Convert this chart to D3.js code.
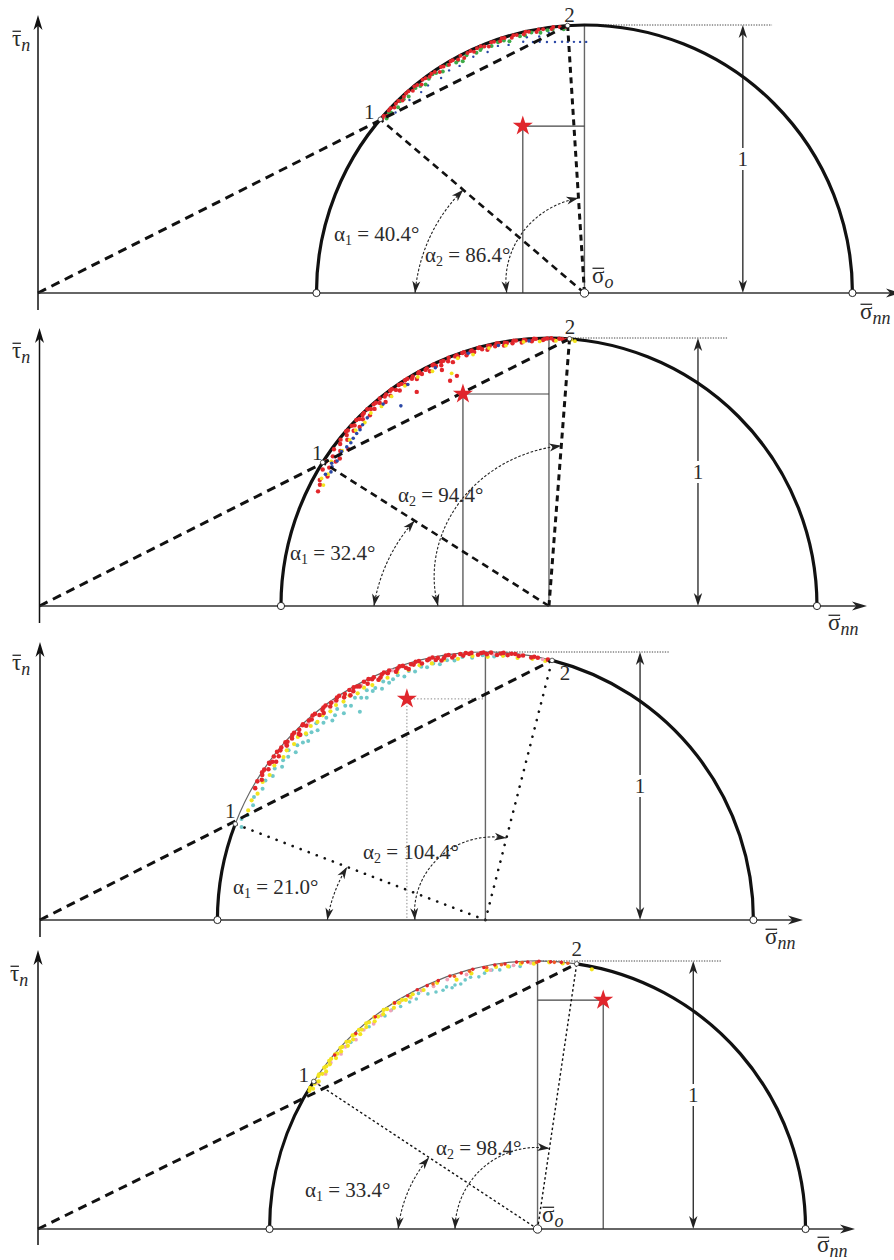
<!DOCTYPE html>
<html>
<head>
<meta charset="utf-8">
<script src="https://cdnjs.cloudflare.com/ajax/libs/d3/7.8.5/d3.min.js"></script>
<style>
  body { margin: 0; background: #fff; }
  svg { display: block; }
  text { font-family: "Liberation Serif", "Times New Roman", serif; fill: #2b2b2b; }
</style>
</head>
<body>
<svg id="chart" width="894" height="1260"></svg>
<script>
// ---- Mohr-circle states, stresses normalised by the circle radius ----
const centerStress = [2.039, 1.901, 1.662, 1.864];   // σ̄o
const alpha1 = [40.4, 32.4, 21.0, 33.4];             // degrees
const alpha2 = [86.4, 94.4, 104.4, 98.4];            // degrees
const starSigma = [1.809, 1.580, 1.369, 2.109];
const starTau = [0.623, 0.791, 0.825, 0.854];
const radiusText = "1";

// ---- measured states: [angle on circle (deg), radius fraction] ----
const p1Red = [[40.8,.996],[41.4,.999],[41.9,.99],[43.0,.998],[43.6,.999],[44.3,.991],[45.1,.997],[45.9,.998],[46.6,.988],[47.4,.995],[48.2,.999],[48.9,.999],[49.7,.99],[50.5,.998],[51.2,.996],[52.0,.987],[52.8,.999],[53.5,.997],[54.4,.992],[55.1,.998],[55.9,.996],[56.8,.986],[57.6,.999],[58.1,.995],[59.3,.99],[60.0,.998],[60.5,.998],[61.6,.991],[62.4,.999],[62.9,.985],[64.0,.996],[64.8,.998],[65.4,.99],[66.3,.997],[67.2,.999],[67.9,.993],[68.8,.987],[69.6,.998],[70.2,.996],[71.5,.991],[72.0,.999],[72.6,.997],[74.1,.99],[74.6,.998],[75.3,.995],[76.8,.992],[77.3,.999],[78.0,.997],[79.6,.99],[80.1,.998],[81.1,.996],[82.9,.993],[83.3,.999],[84.7,.997],[86.0,.995]];
const p1Green = [[41.4,.984],[42.6,.992],[43.0,.987],[44.9,.982],[46.1,.993],[47.0,.989],[48.2,.984],[50.5,.991],[51.6,.986],[52.7,.978],[54.0,.988],[55.2,.994],[56.0,.99],[57.4,.981],[59.0,.992],[60.9,.984],[61.5,.988],[62.3,.977],[63.6,.99],[65.8,.983],[66.8,.986],[67.2,.992],[69.4,.985],[71.0,.99],[72.3,.989],[73.4,.98],[75.9,.988],[77.0,.987],[78.5,.992],[80.4,.985],[82.0,.99],[83.1,.99],[85.5,.987]];
const p1Blue = [[43.7,.975],[47.8,.972],[50.9,.966],[53.0,.97],[56.3,.964],[58.7,.972],[61.2,.967],[64.8,.974],[68.1,.969],[70.7,.977],[73.0,.968],[77.3,.978],[80.0,.972],[82.2,.98],[76.3,.965],[78.4,.956],[79.9,.952],[81.5,.947],[83.3,.943],[84.9,.941],[86.2,.939],[87.6,.938],[89.0,.937],[90.4,.937]];

const p2Red = [[26.4,.962],[27.9,.967],[28.8,.976],[30.3,.957],[31.1,.986],[32.2,.969],[33.0,.991],[34.1,.961],[34.7,.981],[35.2,.955],[36.1,.993],[36.6,.97],[37.8,.986],[38.0,.95],[38.6,.995],[39.5,.975],[40.2,.988],[40.7,.999],[41.1,.996],[41.9,.979],[42.4,.997],[42.9,.99],[43.4,.972],[44.0,.999],[44.6,.994],[45.1,.984],[45.7,.996],[46.2,.998],[46.8,.976],[47.3,.999],[47.9,.991],[48.5,.982],[49.0,.997],[49.6,.996],[50.2,.986],[50.8,.999],[51.3,.975],[51.9,.993],[52.4,.996],[53.0,.983],[53.6,.998],[54.1,.999],[54.7,.988],[55.3,.978],[55.8,.997],[56.4,.995],[57.0,.985],[57.5,.999],[58.1,.999],[58.3,.939],[58.9,.99],[59.3,.996],[59.8,.98],[60.7,.996],[61.0,.999],[61.3,.987],[62.4,.994],[62.8,.997],[63.1,.982],[64.2,.998],[64.5,.999],[64.8,.99],[65.6,.967],[65.9,.984],[66.2,.996],[66.3,.918],[66.7,.996],[67.6,.988],[68.0,.999],[68.2,.925],[68.5,.978],[69.4,.995],[69.8,.997],[70.0,.99],[71.1,.998],[71.5,.999],[71.8,.985],[72.9,.994],[73.2,.996],[73.6,.988],[74.7,.998],[75.0,.999],[75.4,.99],[76.5,.983],[76.8,.997],[77.2,.996],[78.3,.99],[78.7,.999],[79.1,.998],[80.2,.986],[80.5,.996],[80.9,.994],[82.1,.99],[82.4,.999],[82.9,.998],[84.1,.988],[84.6,.997],[85.0,.995],[86.3,.99],[86.8,.999],[87.2,.998],[88.7,.993],[89.0,.996],[89.6,.998],[90.5,.999],[91.1,.992],[92.2,.998],[92.9,.997],[93.7,.995],[94.3,.999]];
const p2Yellow = [[28.2,.955],[29.3,.973],[30.8,.96],[33.6,.975],[36.9,.965],[39.8,.968],[42.3,.975],[44.9,.97],[47.3,.98],[50.0,.972],[53.1,.978],[56.8,.982],[60.2,.985],[63.6,.978],[67.3,.941],[69.8,.985],[73.2,.98],[76.9,.988],[80.6,.985],[84.5,.99],[88.0,.988],[91.5,.99],[94.8,.997],[95.6,.993]];
const p2Blue = [[30.5,.968],[31.6,.955],[32.7,.962],[33.3,.97],[34.4,.958],[35.6,.966],[36.7,.965],[38.2,.96],[39.5,.958],[40.6,.962],[41.9,.964],[43.0,.964],[44.2,.97],[46.0,.976],[50.6,.975],[53.5,.929],[57.5,.98],[64.5,.985],[72.3,.99],[79.0,.99],[85.7,.992]];

const p3Red = [[29.8,.99],[31.3,.996],[32.1,.985],[33.0,.993],[33.5,.999],[34.2,.998],[34.8,.986],[35.9,.994],[36.0,.998],[36.6,.99],[37.1,.979],[37.7,.998],[38.4,.984],[38.9,.999],[39.6,.993],[40.2,.997],[41.3,.986],[41.6,.998],[42.0,.994],[43.2,.99],[43.8,.998],[44.4,.999],[44.9,.983],[45.0,.977],[45.6,.993],[46.8,.997],[47.0,.998],[47.3,.986],[48.5,.994],[49.1,.99],[49.8,.999],[50.4,.998],[51.0,.984],[52.0,.98],[52.2,.992],[52.7,.997],[53.3,.998],[54.0,.985],[54.6,.994],[55.8,.99],[56.3,.998],[56.9,.999],[57.6,.984],[58.1,.993],[59.0,.978],[59.4,.997],[60.0,.986],[60.5,.998],[61.2,.994],[61.7,.99],[63.0,.998],[63.5,.985],[64.1,.999],[64.8,.993],[65.3,.997],[66.0,.981],[66.6,.986],[67.1,.994],[67.7,.998],[68.4,.99],[68.9,.998],[70.2,.985],[70.7,.993],[71.3,.999],[72.0,.997],[72.5,.987],[73.0,.979],[73.8,.994],[74.3,.99],[74.9,.998],[75.6,.998],[76.1,.986],[77.4,.993],[77.9,.997],[78.6,.999],[79.2,.988],[79.7,.994],[80.4,.982],[81.0,.99],[81.5,.998],[82.1,.998],[82.8,.987],[83.3,.994],[84.6,.997],[85.2,.99],[85.8,.999],[86.5,.995],[87.0,.998],[88.4,.99],[89.1,.996],[89.6,.998],[90.3,.992],[91.2,.998],[92.5,.99],[93.3,.996],[93.9,.999],[94.8,.992],[95.6,.998],[96.4,.999],[97.2,.993],[98.1,.997],[99.9,.994],[100.5,.999],[101.3,.998],[103.5,.999]];
const p3Yellow = [[24.8,.975],[27.1,.98],[29.0,.972],[31.8,.978],[33.9,.97],[36.2,.976],[38.9,.968],[40.5,.975],[42.6,.97],[44.3,.978],[46.1,.966],[48.0,.974],[49.7,.969],[51.5,.976],[53.4,.97],[55.2,.977],[57.0,.972],[58.8,.979],[60.6,.971],[62.4,.978],[64.3,.973],[66.1,.98],[68.0,.975],[70.4,.981],[72.9,.976],[75.5,.982],[78.2,.978],[81.0,.984],[84.0,.98],[87.2,.986],[90.5,.982],[93.8,.988],[97.0,.985],[100.2,.99],[103.0,.992]];
const p3Cyan = [[20.9,.974],[22.5,.985],[23.8,.97],[26.3,.967],[28.0,.978],[30.5,.965],[32.4,.972],[34.1,.958],[35.7,.968],[37.0,.95],[38.3,.962],[39.6,.955],[40.8,.97],[41.5,.945],[42.9,.958],[44.2,.95],[45.3,.94],[46.0,.962],[47.2,.955],[48.5,.945],[49.3,.968],[50.6,.952],[51.8,.96],[52.5,.938],[53.7,.948],[54.9,.962],[55.6,.935],[56.8,.955],[57.9,.944],[58.9,.907],[59.6,.962],[60.8,.95],[61.9,.94],[62.7,.965],[63.8,.952],[64.6,.958],[65.9,.945],[66.8,.968],[67.9,.955],[69.0,.962],[70.3,.97],[71.6,.958],[72.9,.972],[74.2,.964],[75.8,.975],[77.0,.968],[78.5,.977],[79.9,.969],[81.6,.98],[83.2,.975],[85.0,.985],[87.1,.98],[89.4,.988],[91.9,.984],[94.0,.99]];
const p3Pink = [[36.5,.99],[41.2,.992],[47.9,.988],[55.0,.993],[62.1,.99],[69.5,.994],[77.8,.992],[84.9,.995],[91.6,.993],[97.5,.995],[102.4,.996]];

const p4Yellow = [[31.2,.995],[31.8,.999],[32.0,.988],[33.1,.993],[33.6,.998],[34.0,.985],[34.9,.997],[35.3,.999],[35.8,.99],[36.7,.984],[37.1,.998],[37.6,.995],[38.4,.989],[38.9,.999],[39.5,.998],[40.3,.986],[40.8,.998],[41.2,.993],[42.1,.988],[42.6,.999],[43.0,.996],[44.0,.984],[44.4,.998],[44.9,.991],[45.8,.987],[46.3,.999],[46.8,.995],[47.7,.983],[48.1,.998],[48.6,.992],[49.7,.988],[50.2,.999],[50.8,.995],[51.9,.985],[52.4,.998],[53.1,.991],[54.3,.987],[54.9,.999],[55.6,.994],[57.0,.984],[57.6,.998],[58.5,.99],[59.4,.993],[60.1,.986],[61.2,.989],[62.0,.992],[64.5,.988],[67.8,.992],[72.0,.978],[75.5,.985],[78.9,.984],[81.0,.99],[83.6,.986],[86.4,.992],[89.2,.99],[92.5,.996],[95.4,.995],[101.8,.99]];
const p4Pink = [[33.6,.985],[36.2,.98],[38.8,.99],[41.7,.982],[43.5,.988],[46.2,.979],[48.9,.986],[51.4,.98],[53.8,.988],[56.1,.982],[58.7,.99],[61.3,.984],[64.0,.99],[66.8,.985],[70.1,.99],[74.4,.986],[79.7,.982],[84.8,.988],[88.5,.993]];
const p4Red = [[40.6,.997],[47.1,.996],[52.6,.997],[57.7,.998],[60.9,.996],[63.3,.999],[65.6,.997],[68.2,.998],[70.9,.999],[73.4,.997],[76.0,.999],[78.4,.996],[80.8,.998],[83.0,.996],[85.5,.999],[87.9,.997],[90.3,.999],[92.8,.998],[95.1,.999]];
const p4Orange = [[66.9,.994],[71.8,.993],[75.2,.995],[79.0,.994],[82.2,.995],[86.7,.996],[89.8,.995],[93.6,.997],[96.5,.998]];
const p4Cyan = [[45.0,.985],[50.2,.982],[54.4,.978],[56.3,.982],[58.4,.975],[60.6,.972],[62.2,.97],[63.2,.985],[65.0,.968],[66.8,.962],[68.4,.958],[69.4,.965],[70.5,.955],[71.3,.961],[72.6,.958],[73.8,.968],[75.1,.972],[76.9,.966],[78.3,.975],[80.0,.981],[81.7,.977],[83.9,.984],[86.2,.982]];

const COL = { red: "#e2262b", green: "#3daa48", blue: "#2b48a6", yellow: "#f3e41e",
              cyan: "#6fc8c9", pink: "#f1a2b8", orange: "#ef5a27", star: "#e0262c" };

// series per panel, in drawing order: [points, colour, dot radius]
const scatterSets = [
  [[p1Blue, COL.blue, 1.2], [p1Green, COL.green, 2.0], [p1Red, COL.red, 2.0]],
  [[p2Red, COL.red, 2.2], [p2Yellow, COL.yellow, 1.9], [p2Blue, COL.blue, 1.8]],
  [[p3Cyan, COL.cyan, 2.0], [p3Yellow, COL.yellow, 2.1], [p3Pink, COL.pink, 1.9], [p3Red, COL.red, 2.3]],
  [[p4Cyan, COL.cyan, 1.8], [p4Pink, COL.pink, 1.9], [p4Yellow, COL.yellow, 2.1], [p4Orange, COL.orange, 1.8], [p4Red, COL.red, 1.8]]
];

// ---- page layout of the four diagrams ----
const R_PX = 268;
const layout = [
  { ox: 38, oy: 293, yTop: 15, yBot: 310, xEnd: 901, rArrow: 2.63, topEnd: 2.739,
    a1Pos: [334, 241], a2Pos: [425, 262], arc1: [0.632, 0.594], arc2: [0.29, 0.355],
    l1Off: [-11, 0], l2Off: [2, -3.5], tauPos: [12, 46], nnPos: [860, 319], oPos: [592, 283],
    centerDot: true, rays: "dash", starLine: "solid", thinMid: false },
  { ox: 39.5, oy: 606, yTop: 328, yBot: 623, xEnd: 867, rArrow: 2.457, topEnd: 2.57,
    a1Pos: [290, 560], a2Pos: [398, 502], arc1: [0.653, 0.594], arc2: [0.414, 0.60],
    l1Off: [-5.5, -2], l2Off: [0.5, -5], tauPos: [12, 358], nnPos: [828, 630], oPos: null,
    centerDot: false, rays: "dash", starLine: "solid", thinMid: false },
  { ox: 40, oy: 920, yTop: 642, yBot: 937, xEnd: 803, rArrow: 2.239, topEnd: 2.35,
    a1Pos: [233, 894], a2Pos: [363, 859], arc1: [0.59, 0.553], arc2: [0.263, 0.316],
    l1Off: [-5, -6], l2Off: [13, 20], tauPos: [12, 670], nnPos: [765, 944], oPos: null,
    centerDot: false, rays: "dots", starLine: "dotted", thinMid: true },
  { ox: 38, oy: 1229, yTop: 950, yBot: 1245, xEnd: 855, rArrow: 2.445, topEnd: 2.55,
    a1Pos: [305, 1197], a2Pos: [436, 1155], arc1: [0.52, 0.485], arc2: [0.308, 0.304],
    l1Off: [-10, 1], l2Off: [0, -8], tauPos: [10, 981], nnPos: [817, 1252], oPos: [542, 1222],
    centerDot: true, rays: "fine", starLine: "solid", thinMid: true }
];

const svg = d3.select("#chart");
const rad = d => d * Math.PI / 180;

// notched arrow head with its tip at `tip`, pointing along `dir`
function arrowHead(g, tip, dir, len, hw, fill) {
  const n = Math.hypot(dir[0], dir[1]);
  const ux = dir[0] / n, uy = dir[1] / n;
  const bx = tip[0] - ux * len, by = tip[1] - uy * len;
  const pts = [
    [tip[0], tip[1]],
    [bx - uy * hw, by + ux * hw],
    [tip[0] - ux * len * 0.72, tip[1] - uy * len * 0.72],
    [bx + uy * hw, by - ux * hw]
  ];
  g.append("path").attr("d", "M" + pts.map(p => p.join(",")).join("L") + "Z").attr("fill", fill);
}

// symbol with an overbar and an italic subscript (σ̄nn, τ̄n, σ̄o)
function barLabel(g, xp, yp, main, sub, size) {
  const t = g.append("text").attr("x", xp).attr("y", yp).attr("font-size", size);
  const m = t.append("tspan").text(main);
  t.append("tspan").attr("font-style", "italic").attr("font-size", size * 0.78)
    .attr("dy", size * 0.2).text(sub);
  const w = m.node().getComputedTextLength();
  g.append("line").attr("x1", xp + 0.5).attr("x2", xp + w - 0.3)
    .attr("y1", yp - size * 0.64).attr("y2", yp - size * 0.64)
    .attr("stroke", "#2b2b2b").attr("stroke-width", 1.3);
}

function alphaLabel(g, pos, idx, val) {
  const t = g.append("text").attr("x", pos[0]).attr("y", pos[1]).attr("font-size", 21);
  t.append("tspan").text("α");
  t.append("tspan").attr("font-size", 14).attr("dy", 4).text(idx);
  t.append("tspan").attr("dy", -4).text(" = " + val.toFixed(1) + "°");
}

layout.forEach((L, i) => {
  const g = svg.append("g");
  const x = d3.scaleLinear().domain([0, 1]).range([L.ox, L.ox + R_PX]);
  const y = d3.scaleLinear().domain([0, 1]).range([L.oy, L.oy - R_PX]);
  const s0 = centerStress[i];
  const cx = x(s0), cy = y(0), r = x(1) - x(0);

  // state on the circle at angle a (deg from the compressive side), radius fraction rho
  const state = (a, rho = 1) => [s0 - rho * Math.cos(rad(a)), rho * Math.sin(rad(a))];
  const P = d => [x(d[0]), y(d[1])];

  const p1 = P(state(alpha1[i]));
  const p2 = P(state(alpha2[i]));
  const star = P([starSigma[i], starTau[i]]);

  // vertical through the centre up to the top of the circle
  g.append("line").attr("x1", cx).attr("x2", cx).attr("y1", y(0)).attr("y2", y(1))
    .attr("stroke", "#666").attr("stroke-width", 1.4);

  // projection lines of the current state
  const sl = g.append("g").attr("fill", "none");
  if (L.starLine === "dotted") sl.attr("stroke", "#888").attr("stroke-width", 1).attr("stroke-dasharray", "1.4,2");
  else sl.attr("stroke", "#444").attr("stroke-width", 1.2);
  sl.append("line").attr("x1", star[0]).attr("x2", star[0]).attr("y1", star[1]).attr("y2", y(0));
  sl.append("line").attr("x1", star[0]).attr("x2", cx).attr("y1", star[1]).attr("y2", star[1]);

  // dotted level of maximum shear
  g.append("line").attr("x1", cx).attr("x2", x(L.topEnd)).attr("y1", y(1)).attr("y2", y(1))
    .attr("stroke", "#444").attr("stroke-width", 1).attr("stroke-dasharray", "1.3,1.3");

  // radius dimension arrow
  const ra = x(L.rArrow);
  g.append("line").attr("x1", ra).attr("x2", ra).attr("y1", y(0) - 4).attr("y2", y(1) + 4)
    .attr("stroke", "#222").attr("stroke-width", 1.3);
  arrowHead(g, [ra, y(1)], [0, -1], 13, 4.2, "#222");
  arrowHead(g, [ra, y(0)], [0, 1], 13, 4.2, "#222");
  const ym = (y(0) + y(1)) / 2;
  g.append("rect").attr("x", ra - 6).attr("y", ym - 11).attr("width", 12).attr("height", 22).attr("fill", "#fff");
  g.append("text").attr("x", ra).attr("y", ym + 7).attr("text-anchor", "middle")
    .attr("font-size", 21).text(radiusText);

  // the circle
  const arcPath = (a0, a1) => {
    const p = d3.path();
    p.arc(cx, cy, r, Math.PI + rad(a0), Math.PI + rad(a1), false);
    return p.toString();
  };
  if (L.thinMid) {
    g.append("path").attr("d", arcPath(0, alpha1[i])).attr("fill", "none").attr("stroke", "#111").attr("stroke-width", 3.2);
    g.append("path").attr("d", arcPath(alpha1[i], alpha2[i])).attr("fill", "none").attr("stroke", "#666").attr("stroke-width", 1.2);
    g.append("path").attr("d", arcPath(alpha2[i], 180)).attr("fill", "none").attr("stroke", "#111").attr("stroke-width", 3.2);
  } else {
    g.append("path").attr("d", arcPath(0, 180)).attr("fill", "none").attr("stroke", "#111").attr("stroke-width", 3.2);
  }

  // measured states
  scatterSets[i].forEach(([pts, col, rr]) => {
    g.append("g").selectAll("circle").data(pts).join("circle")
      .attr("cx", d => x(state(d[0], d[1])[0]))
      .attr("cy", d => y(state(d[0], d[1])[1]))
      .attr("r", rr).attr("fill", col);
  });

  // line from the origin through points 1 and 2
  g.append("line").attr("x1", x(0)).attr("y1", y(0)).attr("x2", p2[0]).attr("y2", p2[1])
    .attr("stroke", "#111").attr("stroke-width", 3).attr("stroke-dasharray", "9,6");

  // rays from the centre to points 1 and 2
  const rayStyle = (sel, second) => {
    if (L.rays === "dash") sel.attr("stroke-width", second ? 3 : 2.6).attr("stroke-dasharray", second ? "6,4.5" : "7,5");
    else if (L.rays === "dots") sel.attr("stroke-width", 2.6).attr("stroke-linecap", "round").attr("stroke-dasharray", "0.1,8.5");
    else sel.attr("stroke-width", 1.4).attr("stroke-dasharray", "2.5,2.5");
    return sel.attr("stroke", "#111");
  };
  rayStyle(g.append("line").attr("x1", cx).attr("y1", cy).attr("x2", p1[0]).attr("y2", p1[1]), false);
  rayStyle(g.append("line").attr("x1", cx).attr("y1", cy).attr("x2", p2[0]).attr("y2", p2[1]), true);

  // curved angle arrows α1 and α2
  [[alpha1[i], L.arc1], [alpha2[i], L.arc2]].forEach(([a, rr]) => {
    const pts = d3.range(0, 61).map(k => {
      const t = k / 60, th = rad(a * t), rk = (rr[0] + (rr[1] - rr[0]) * t) * r;
      return [cx - rk * Math.cos(th), cy - rk * Math.sin(th)];
    });
    g.append("path").attr("d", d3.line()(pts)).attr("fill", "none")
      .attr("stroke", "#222").attr("stroke-width", 1.1).attr("stroke-dasharray", "2.6,1.8");
    arrowHead(g, pts[0], [pts[0][0] - pts[3][0], pts[0][1] - pts[3][1]], 12, 4, "#222");
    arrowHead(g, pts[60], [pts[60][0] - pts[57][0], pts[60][1] - pts[57][1]], 12, 4, "#222");
  });

  // axes
  g.append("line").attr("x1", x(0)).attr("x2", L.xEnd - 6).attr("y1", y(0)).attr("y2", y(0))
    .attr("stroke", "#333").attr("stroke-width", 1.5);
  arrowHead(g, [L.xEnd, y(0)], [1, 0], 15, 4.5, "#222");
  g.append("line").attr("x1", x(0)).attr("x2", x(0)).attr("y1", L.yBot).attr("y2", L.yTop + 6)
    .attr("stroke", "#111").attr("stroke-width", 1.5);
  arrowHead(g, [x(0), L.yTop], [0, -1], 15, 4.5, "#111");

  // principal stresses and centre
  [s0 - 1, s0 + 1].forEach(s => {
    g.append("circle").attr("cx", x(s)).attr("cy", y(0)).attr("r", 3.6)
      .attr("fill", "#fff").attr("stroke", "#222").attr("stroke-width", 1);
  });
  if (L.centerDot) {
    g.append("circle").attr("cx", cx).attr("cy", cy).attr("r", 4.2)
      .attr("fill", "#fff").attr("stroke", "#222").attr("stroke-width", 1);
  }

  // points 1 and 2
  [p1, p2].forEach(p => {
    g.append("circle").attr("cx", p[0]).attr("cy", p[1]).attr("r", 2.3)
      .attr("fill", "#fff").attr("stroke", "#333").attr("stroke-width", 0.8);
  });
  g.append("text").attr("x", p1[0] + L.l1Off[0]).attr("y", p1[1] + L.l1Off[1])
    .attr("text-anchor", "middle").attr("font-size", 21).text("1");
  g.append("text").attr("x", p2[0] + L.l2Off[0]).attr("y", p2[1] + L.l2Off[1])
    .attr("text-anchor", "middle").attr("font-size", 21).text("2");

  // current state
  g.append("path").attr("d", d3.symbol(d3.symbolStar, 125)())
    .attr("transform", `translate(${star[0]},${star[1]})`).attr("fill", COL.star);

  // labels
  alphaLabel(g, L.a1Pos, "1", alpha1[i]);
  alphaLabel(g, L.a2Pos, "2", alpha2[i]);
  barLabel(g, L.tauPos[0], L.tauPos[1], "τ", "n", 23);
  barLabel(g, L.nnPos[0], L.nnPos[1], "σ", "nn", 23);
  if (L.oPos) barLabel(g, L.oPos[0], L.oPos[1], "σ", "o", 23);
});
</script>
</body>
</html>
